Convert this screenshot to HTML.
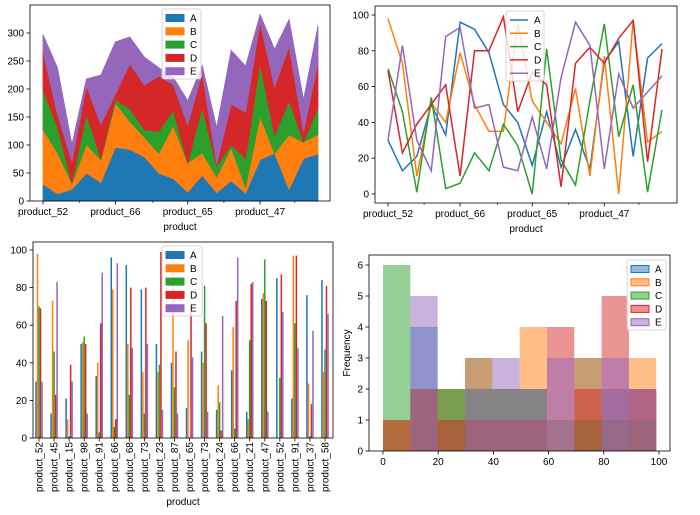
<!DOCTYPE html>
<html><head><meta charset="utf-8"><style>
body{margin:0;background:#fff;}
svg{display:block;font-family:"Liberation Sans","DejaVu Sans",sans-serif;font-size:10px;}
</style></head><body>
<svg id="fig" width="700" height="515" viewBox="0 0 700 515" xmlns="http://www.w3.org/2000/svg"></svg>
<script>
const categories=["product_52","product_45","product_15","product_98","product_91","product_66","product_68","product_73","product_23","product_87","product_65","product_73","product_24","product_66","product_21","product_47","product_52","product_91","product_37","product_58"];
const seriesNames=["A","B","C","D","E"];
const valuesA=[30,13,21,50,33,96,92,79,50,40,16,46,15,36,14,74,85,21,76,84];
const valuesB=[98,73,10,51,40,79,50,35,35,95,52,40,28,59,10,77,0,97,29,35];
const valuesC=[70,46,1,54,3,6,23,13,39,27,0,81,19,5,52,95,32,61,1,47];
const valuesD=[69,23,39,50,61,10,80,80,99,46,68,61,4,73,82,73,87,97,18,81];
const valuesE=[30,83,30,13,88,93,48,50,15,13,43,14,65,96,83,14,67,48,57,66];
const areaTicks=[0,50,100,150,200,250,300];
const lineTicks=[0,20,40,60,80,100];
const barTicks=[0,20,40,60,80,100];
const histXTicks=[0,20,40,60,80,100];
const histYTicks=[0,1,2,3,4,5,6];
const colors=["#1f77b4","#ff7f0e","#2ca02c","#d62728","#9467bd"];
const series=[valuesA,valuesB,valuesC,valuesD,valuesE];
const svg=document.getElementById('fig');
const NS="http://www.w3.org/2000/svg";
function mk(tag,attrs,parent,text){const e=document.createElementNS(NS,tag);for(const k in attrs)e.setAttribute(k,attrs[k]);if(text!==undefined)e.textContent=text;(parent||svg).appendChild(e);return e;}
function grp(name){const g=mk('g',{});


return g;}
function frame(g,x0,y0,x1,y1){const r=mk('rect',{x:x0,y:y0,width:x1-x0,height:y1-y0,fill:'none',stroke:'#000','stroke-width':0.8},g);

}
function yAxis(g,ticks,sy,x0,labels){ticks.forEach((t,i)=>{const y=sy(t);mk('line',{x1:x0-3.5,x2:x0,y1:y,y2:y,stroke:'#000','stroke-width':0.8},g);
const tx=mk('text',{x:x0-6,y:y+3.5,'text-anchor':'end'},g,labels?labels[i]:t);

});}
function legend(g,x,y,w,patch,alpha){mk('rect',{x:x,y:y,width:w,height:70,fill:'#fff','fill-opacity':0.8,stroke:'#ccc','stroke-width':0.8,rx:2},g);
seriesNames.forEach((n,i)=>{const yy=y+9+i*13.3;let m;
if(patch)m=mk('rect',{x:x+4,y:yy-3.5,width:18,height:7,fill:colors[i],'fill-opacity':alpha,stroke:colors[i]},g);
else m=mk('line',{x1:x+4,x2:x+22,y1:yy,y2:yy,stroke:colors[i],'stroke-width':1.5},g);


const t=mk('text',{x:x+28,y:yy+3.5},g,n);

});}
function catXAxis(g,sx,yb){[0,5,10,15].forEach(i=>{mk('line',{x1:sx(i),x2:sx(i),y1:yb,y2:yb+3.5,stroke:'#000','stroke-width':0.8},g);
const t=mk('text',{x:sx(i),y:yb+14,'text-anchor':'middle'},g,categories[i]);

});
[2.5,7.6,12.5,17.4].forEach(i=>mk('line',{x1:sx(i),x2:sx(i),y1:yb,y2:yb+2,stroke:'#000','stroke-width':0.6},g));}

// ---- Area chart ----
(function(){const g=grp('stacked-area-chart');
const sx=i=>43+i*(318-43)/19, sy=v=>201-v*0.56;
let base=categories.map(()=>0);
series.forEach((s,k)=>{const top=base.map((b,i)=>b+s[i]);
let d='M'+categories.map((c,i)=>sx(i)+','+sy(top[i])).join('L');
for(let i=categories.length-1;i>=0;i--)d+='L'+sx(i)+','+sy(base[i]);
const p=mk('path',{d:d+'Z',fill:colors[k],stroke:colors[k],'stroke-width':0.8},g);


base=top;});
frame(g,30,5,330,201);yAxis(g,areaTicks,sy,30);catXAxis(g,sx,201);
const xl=mk('text',{x:180,y:230,'text-anchor':'middle'},g,'product');


legend(g,162,9,39,true,1);})();

// ---- Line chart ----
(function(){const g=grp('line-chart');
const sx=i=>388+i*(662-388)/19, sy=v=>194-v*1.79;
series.forEach((s,k)=>{const p=mk('polyline',{points:s.map((v,i)=>sx(i)+','+sy(v)).join(' '),fill:'none',stroke:colors[k],'stroke-width':1.5},g);

});
frame(g,375,6,677,203);yAxis(g,lineTicks,sy,375);catXAxis(g,sx,203);
const xl=mk('text',{x:526,y:232,'text-anchor':'middle'},g,'product');


legend(g,506,11,38,false,1);})();

// ---- Bar chart ----
(function(){const g=grp('grouped-bar-chart');
const step=(325-39)/19, sx=i=>39+i*step, sy=v=>438-v*1.88, bw=step*0.1;
series.forEach((s,k)=>s.forEach((v,i)=>{const x=sx(i)-2.5*bw+k*bw;
const r=mk('rect',{x:x,y:sy(v),width:bw,height:438-sy(v),fill:colors[k]},g);

}));
frame(g,33,242,333,438);yAxis(g,barTicks,sy,33);
categories.forEach((c,i)=>{mk('line',{x1:sx(i),x2:sx(i),y1:438,y2:441.5,stroke:'#000','stroke-width':0.8},g);
const t=mk('text',{x:0,y:0,'text-anchor':'end',transform:'translate('+(sx(i)+3.5)+',442) rotate(-90)'},g,c);

});
const xl=mk('text',{x:183,y:505,'text-anchor':'middle'},g,'product');


legend(g,162,246,40,true,1);})();

// ---- Histogram ----
(function(){const g=grp('histogram');
const all=[].concat(...series);const mn=Math.min(...all),mx=Math.max(...all),nb=10,bwv=(mx-mn)/nb;
const sx=v=>383+v*2.76, sy=v=>451-v*31;
series.forEach((s,k)=>{const cnt=new Array(nb).fill(0);s.forEach(v=>{let b=Math.floor((v-mn)/bwv);if(b>=nb)b=nb-1;cnt[b]++;});
cnt.forEach((c,b)=>{if(!c)return;const x0=sx(mn+b*bwv),x1=sx(mn+(b+1)*bwv);
const r=mk('rect',{x:x0,y:sy(c),width:x1-x0,height:451-sy(c),fill:colors[k],'fill-opacity':0.5},g);

});});
frame(g,369,255,670,451);yAxis(g,histYTicks,sy,369);
histXTicks.forEach(t=>{mk('line',{x1:sx(t),x2:sx(t),y1:451,y2:454.5,stroke:'#000','stroke-width':0.8},g);
const tx=mk('text',{x:sx(t),y:465,'text-anchor':'middle'},g,t);

});
const yl=mk('text',{x:0,y:0,'text-anchor':'middle',transform:'translate(350,353) rotate(-90)'},g,'Frequency');


legend(g,627,260,39,true,0.5);})();
</script>
</body></html>
